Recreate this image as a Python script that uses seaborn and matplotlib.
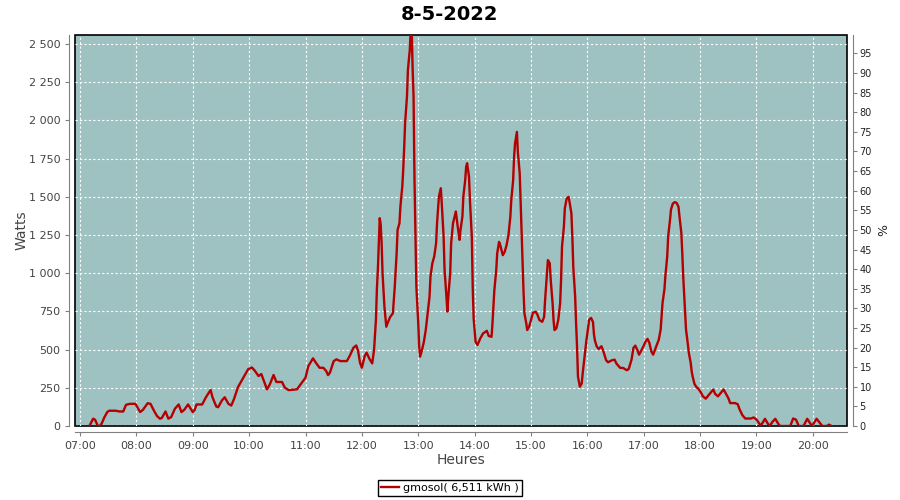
import pandas as pd
import matplotlib
matplotlib.use("Agg")
import matplotlib.pyplot as plt
import matplotlib.dates as mdates
from matplotlib.ticker import FuncFormatter, MultipleLocator
import seaborn as sns

title = "8-5-2022"
series_label = "gmosol( 6,511 kWh )"

times = [
    "07:10", "07:14", "07:16", "07:19", "07:21", "07:23", "07:26", "07:29", "07:31", "07:38",
    "07:42", "07:46", "07:49", "07:53", "07:59", "08:04", "08:07", "08:12", "08:15", "08:19",
    "08:22", "08:25", "08:27", "08:31", "08:34", "08:37", "08:41", "08:45", "08:48", "08:51",
    "08:55", "09:00", "09:02", "09:04", "09:10", "09:14", "09:19", "09:21", "09:25", "09:27",
    "09:31", "09:34", "09:38", "09:41", "09:44", "09:48", "09:52", "09:56", "09:59", "10:03",
    "10:06", "10:10", "10:13", "10:16", "10:19", "10:22", "10:26", "10:29", "10:35", "10:38",
    "10:42", "10:51", "10:56", "11:00", "11:03", "11:08", "11:11", "11:15", "11:19", "11:22",
    "11:24", "11:26", "11:30", "11:33", "11:37", "11:44", "11:47", "11:51", "11:54", "11:56",
    "11:58", "12:00", "12:03", "12:05", "12:08", "12:11", "12:13", "12:15", "12:16", "12:17",
    "12:18", "12:19", "12:20", "12:21", "12:22", "12:24", "12:26", "12:28", "12:30", "12:33",
    "12:35", "12:37", "12:38", "12:40", "12:41", "12:43", "12:44", "12:45", "12:46", "12:48",
    "12:49", "12:51", "12:52", "12:53", "12:54", "12:55", "12:56", "12:57", "12:58", "13:00",
    "13:01", "13:02", "13:04", "13:06", "13:08", "13:10", "13:12", "13:13", "13:15", "13:17",
    "13:19", "13:20", "13:22", "13:24", "13:25", "13:27", "13:28", "13:30", "13:31", "13:32",
    "13:34", "13:35", "13:37", "13:40", "13:42", "13:44", "13:45", "13:47", "13:48", "13:50",
    "13:51", "13:52", "13:54", "13:55", "13:57", "13:58", "13:59", "14:01", "14:03", "14:06",
    "14:09", "14:13", "14:15", "14:18", "14:19", "14:21", "14:23", "14:24", "14:26", "14:27",
    "14:29", "14:30", "14:32", "14:34", "14:36", "14:38", "14:39", "14:41", "14:42", "14:43",
    "14:45", "14:46", "14:48", "14:49", "14:50", "14:51", "14:52", "14:53", "14:55", "14:56",
    "14:58", "15:00", "15:02", "15:05", "15:07", "15:09", "15:12", "15:14", "15:15", "15:17",
    "15:18", "15:20", "15:21", "15:23", "15:24", "15:25", "15:27", "15:29", "15:31", "15:32",
    "15:33", "15:35", "15:36", "15:38", "15:40", "15:41", "15:43", "15:44", "15:45", "15:47",
    "15:48", "15:49", "15:50", "15:52", "15:54", "15:55", "15:57", "15:59", "16:01", "16:02",
    "16:04", "16:06", "16:07", "16:08", "16:10", "16:12", "16:15", "16:17", "16:20", "16:22",
    "16:26", "16:29", "16:31", "16:35", "16:38", "16:42", "16:44", "16:47", "16:49", "16:51",
    "16:53", "16:55", "16:57", "17:00", "17:02", "17:04", "17:06", "17:08", "17:10", "17:12",
    "17:14", "17:16", "17:18", "17:19", "17:20", "17:22", "17:23", "17:25", "17:26", "17:28",
    "17:29", "17:31", "17:33", "17:35", "17:37", "17:38", "17:40", "17:41", "17:42", "17:44",
    "17:45", "17:47", "17:48", "17:50", "17:51", "17:52", "17:54", "17:56", "17:58", "18:00",
    "18:03", "18:06", "18:08", "18:11", "18:14", "18:16", "18:19", "18:22", "18:25", "18:27",
    "18:30", "18:32", "18:37", "18:40", "18:42", "18:45", "18:48", "18:54", "18:57", "19:00",
    "19:03", "19:04", "19:06", "19:09", "19:12", "19:14", "19:17", "19:20", "19:23", "19:25",
    "19:36", "19:39", "19:42", "19:45", "19:50", "19:54", "19:59", "20:04", "20:10", "20:15",
    "20:17", "20:20",
]

watts = [
    0, 48, 41, 0, 0, 15, 58, 91, 100, 100,
    95, 95, 139, 145, 145, 91, 106, 149, 145, 97,
    65, 48, 52, 95, 48, 58, 113, 141, 91, 106,
    141, 91, 105, 141, 141, 188, 236, 188, 128, 123,
    167, 188, 145, 134, 178, 253, 297, 340, 372, 383,
    362, 327, 340, 290, 240, 272, 334, 288, 288, 251,
    235, 240, 283, 316, 392, 443, 414, 381, 381, 360,
    333, 349, 425, 436, 425, 425, 458, 512, 527, 490,
    414, 381, 458, 480, 440, 410, 500, 700, 900, 1022,
    1185, 1360, 1320, 1200, 1000, 780, 650, 683, 712, 738,
    912, 1131, 1284, 1327, 1436, 1567, 1677, 1818, 1982, 2157,
    2331, 2462, 2600, 2600, 2342, 2157, 1611, 1240, 912, 672,
    520, 454, 498, 552, 629, 738, 847, 978, 1065, 1109,
    1196, 1327, 1502, 1556, 1458, 1240, 1022, 847, 749, 847,
    1000, 1196, 1327, 1404, 1305, 1218, 1284, 1371, 1502, 1611,
    1698, 1720, 1633, 1480, 1240, 900, 700, 552, 530, 573,
    606, 623, 589, 584, 671, 889, 1020, 1129, 1205, 1190,
    1140, 1118, 1140, 1184, 1249, 1369, 1478, 1609, 1761, 1849,
    1925, 1794, 1652, 1456, 1260, 1064, 889, 737, 671, 628,
    650, 693, 741, 748, 726, 693, 682, 715, 824, 998,
    1086, 1064, 955, 802, 693, 628, 639, 693, 802, 955,
    1173, 1304, 1424, 1489, 1500, 1467, 1391, 1238, 1042, 846,
    671, 519, 323, 257, 279, 344, 453, 562, 650, 698,
    707, 680, 600, 560, 520, 504, 522, 489, 430, 417,
    430, 434, 408, 380, 380, 365, 373, 434, 511, 526,
    500, 467, 489, 526, 554, 570, 544, 489, 467, 500,
    533, 565, 631, 718, 806, 893, 980, 1111, 1242, 1351,
    1417, 1456, 1465, 1460, 1434, 1373, 1264, 1133, 980, 740,
    631, 533, 478, 413, 358, 325, 275, 255, 245, 228,
    194, 179, 194, 217, 239, 210, 194, 217, 239, 217,
    183, 150, 150, 143, 109, 71, 49, 49, 56, 42,
    16, 0, 16, 47, 16, 0, 27, 47, 16, 0,
    0, 49, 42, 0, 0, 47, 0, 47, 0, 0,
    9, 0,
]

df = pd.DataFrame({"time": pd.to_datetime(["2022-05-08 " + t for t in times]), "watts": watts})

fig = plt.figure(figsize=(9, 5), dpi=100)
ax = fig.add_axes([75 / 900, 74 / 500, 772 / 900, 391 / 500])
ax.set_facecolor("#9ec2c2")
ax.patch.set_edgecolor("black")
ax.patch.set_linewidth(1.2)

sns.lineplot(data=df, x="time", y="watts", ax=ax, color="#b40000", linewidth=1.7,
             label=series_label, legend=False)

ax.set_xlim(pd.Timestamp("2022-05-08 06:54:40"), pd.Timestamp("2022-05-08 20:36:20"))
ax.set_ylim(0, 2559)
ax.xaxis.set_major_locator(mdates.HourLocator())
ax.xaxis.set_major_formatter(mdates.DateFormatter("%H:%M"))
ax.yaxis.set_major_locator(MultipleLocator(250))
ax.yaxis.set_major_formatter(FuncFormatter(lambda v, p: f"{int(v):,}".replace(",", " ")))
ax.grid(True, color="white", linestyle=(0, (2, 2)), linewidth=0.8)
ax.set_axisbelow(True)
ax.set_xlabel("")
ax.set_ylabel("")

for s in ["top", "right"]:
    ax.spines[s].set_visible(False)
for s in ["left", "bottom"]:
    ax.spines[s].set_position(("outward", 4))
    ax.spines[s].set_color("#808080")
ax.tick_params(axis="both", colors="#808080", labelcolor="#444444", labelsize=8, length=3, width=0.8)

ax2 = ax.twinx()
ax2.set_ylim(0, 99.7)
ax2.yaxis.set_major_locator(MultipleLocator(5))
for s in ["top", "left", "bottom"]:
    ax2.spines[s].set_visible(False)
ax2.spines["right"].set_position(("outward", 4))
ax2.spines["right"].set_color("#808080")
ax2.tick_params(axis="y", colors="#808080", labelcolor="#222222", labelsize=7, length=3, width=0.8, pad=2)

fig.text(0.5, 0.972, title, ha="center", va="center", fontsize=14, fontweight="bold")
fig.text(22 / 900, 0.539, "Watts", rotation=90, ha="center", va="center", fontsize=10, color="#444444")
fig.text(461 / 900, 0.08, "Heures", ha="center", va="center", fontsize=10, color="#444444")
fig.text(880 / 900, 0.539, "%", rotation=-90, ha="center", va="center", fontsize=9, color="#222222")

handles, labels = ax.get_legend_handles_labels()
fig.legend(handles, labels, loc="center", bbox_to_anchor=(0.5, 0.024), fontsize=8,
           frameon=True, fancybox=False, edgecolor="black", framealpha=1,
           handlelength=1.6, handletextpad=0.4, borderpad=0.3, borderaxespad=0)

fig.savefig("out.png", dpi=100)
